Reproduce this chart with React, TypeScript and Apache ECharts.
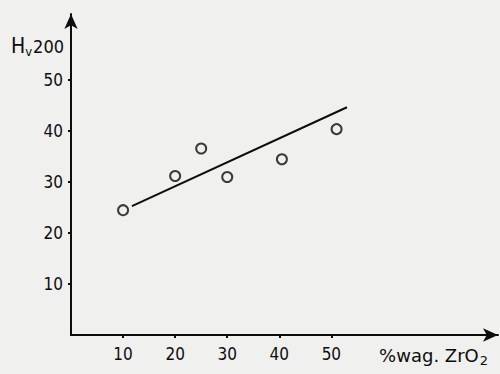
import React, { useEffect, useRef } from "react";
import * as echarts from "echarts";

const xTicks = [10, 20, 30, 40, 50];
const yTicks = [10, 20, 30, 40, 50];
const measured: [number, number][] = [
  [10, 24.5],
  [20, 31.2],
  [25, 36.6],
  [30, 31.0],
  [40.5, 34.5],
  [51, 40.4],
];
const trendLine: [number, number][] = [
  [11.7, 25.3],
  [53, 44.7],
];

const FONT = "'DejaVu Sans Condensed', 'Liberation Sans Narrow', 'DejaVu Sans', sans-serif";
const WIDE = "'DejaVu Sans', sans-serif";
const INK = "#0d0d0d";

export default function App() {
  const ref = useRef<HTMLDivElement>(null);
  useEffect(() => {
    if (!ref.current) return;
    const chart = echarts.init(ref.current, undefined, { renderer: "svg" });
    chart.setOption({
      animation: false,
      backgroundColor: "#f0f0ee",
      textStyle: { fontFamily: FONT, color: INK },
      grid: { left: 71, right: 2, top: 14, bottom: 39 },
      xAxis: {
        type: "value",
        min: 0,
        max: 82,
        interval: 10,
        splitLine: { show: false },
        axisLine: {
          lineStyle: { color: INK, width: 2 },
          symbol: ["none", "arrow"],
          symbolSize: [10, 15],
        },
        axisTick: { show: true, length: 3, lineStyle: { color: INK, width: 2 }, customValues: xTicks },
        axisLabel: { customValues: xTicks, color: INK, fontSize: 17, fontFamily: FONT, margin: 10 },
        name: "{n|%wag. ZrO}{s|2}",
        nameLocation: "end",
        nameGap: -10,
        nameTextStyle: {
          align: "right",
          verticalAlign: "top",
          padding: [9, 0, 0, 0],
          rich: {
            n: { fontSize: 18, fontFamily: WIDE, color: INK },
            s: { fontSize: 13, fontFamily: WIDE, color: INK, padding: [10, 0, 0, 1] },
          },
        },
      },
      yAxis: {
        type: "value",
        min: 0,
        max: 63,
        interval: 10,
        splitLine: { show: false },
        axisLine: {
          lineStyle: { color: INK, width: 2 },
          symbol: ["none", "arrow"],
          symbolSize: [10, 15],
        },
        axisTick: { show: true, length: 3, lineStyle: { color: INK, width: 2 }, customValues: yTicks },
        axisLabel: { customValues: yTicks, color: INK, fontSize: 17, fontFamily: FONT, margin: 8 },
        name: "{h|H}{v|v}{n|200}",
        nameLocation: "end",
        nameGap: -44,
        nameTextStyle: {
          align: "right",
          padding: [0, 7, 0, 0],
          rich: {
            h: { fontSize: 21, fontFamily: FONT, color: INK },
            v: { fontSize: 13, fontFamily: FONT, color: INK, padding: [11, 1, 0, 0] },
            n: { fontSize: 18, fontFamily: FONT, color: INK },
          },
        },
      },
      series: [
        {
          type: "line",
          data: trendLine,
          symbol: "none",
          lineStyle: { color: INK, width: 2 },
          z: 2,
        },
        {
          type: "scatter",
          data: measured,
          symbol: "circle",
          symbolSize: 10,
          itemStyle: { color: "#f0f0ee", borderColor: INK, borderWidth: 2 },
          z: 3,
        },
      ],
    });
    return () => chart.dispose();
  }, []);
  return <div ref={ref} style={{ width: 500, height: 374, position: "absolute", left: 0, top: 0 }} />;
}
